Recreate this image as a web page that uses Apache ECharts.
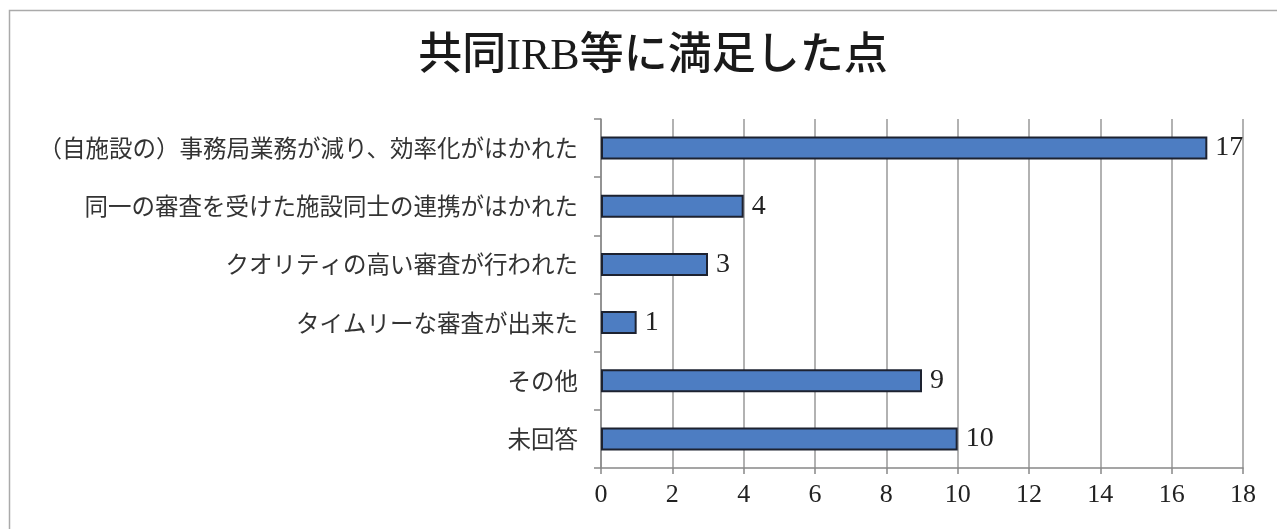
<!DOCTYPE html>
<html lang="ja">
<head>
	<meta charset="UTF-8">
	<title>共同IRB等に満足した点</title>
	<script src="https://cdn.jsdelivr.net/npm/echarts@6/dist/echarts.min.js"></script>
	<style>
		html, body { margin: 0; padding: 0; background: #fff; }
	</style>
</head>
<body>
	<div id="main" style="width:1277px;height:529px;"></div>
<script type="text/javascript">
var titleText = '共同IRB等に満足した点';
var categories = [
	'（自施設の）事務局業務が減り、効率化がはかれた',
	'同一の審査を受けた施設同士の連携がはかれた',
	'クオリティの高い審査が行われた',
	'タイムリーな審査が出来た',
	'その他',
	'未回答'
];
var counts = [17, 4, 3, 1, 9, 10];
var axisMin = 0, axisMax = 18, axisStep = 2;

var serif = '"Liberation Serif", "DejaVu Serif", "Noto Sans CJK JP", serif';
var cjk = '"Noto Sans CJK JP", sans-serif';

var chart = echarts.init(document.getElementById('main'));

chart.setOption({
	backgroundColor: '#fff',
	animation: false,
	title: {
		text: titleText,
		left: 648,
		textAlign: 'center',
		top: 30,
		textStyle: { fontFamily: serif, fontSize: 44, fontWeight: 500, color: '#1a1a1a' }
	},
	graphic: [{
		type: 'rect',
		shape: { x: 9.5, y: 10.5, width: 1300, height: 540 },
		style: { fill: 'none', stroke: '#aaa', lineWidth: 1.5 },
		silent: true
	}],
	grid: { left: 601, right: 34, top: 119, bottom: 61 },
	xAxis: {
		type: 'value',
		min: axisMin, max: axisMax, interval: axisStep,
		axisLine: { show: true, lineStyle: { color: '#888', width: 1.5 } },
		axisTick: { show: true, length: 6, lineStyle: { color: '#888', width: 1.5 } },
		splitLine: { show: true, lineStyle: { color: '#999', width: 1.5 } },
		axisLabel: { margin: 14, fontFamily: serif, fontSize: 26, color: '#222' }
	},
	yAxis: {
		type: 'category',
		data: categories,
		inverse: true,
		axisLine: { show: true, lineStyle: { color: '#888', width: 1.5 } },
		axisTick: { show: true, length: 7, lineStyle: { color: '#888', width: 1.5 } },
		axisLabel: { margin: 23, fontFamily: cjk, fontSize: 23.5, color: '#333' }
	},
	series: [{
		type: 'bar',
		data: counts,
		barWidth: 23,
		itemStyle: { color: '#4d7dc2', borderColor: '#1d2230', borderWidth: 2 },
		label: {
			show: true, position: 'right', distance: 8,
			fontFamily: serif, fontSize: 28, color: '#222'
		}
	}]
});
</script>
</body>
</html>
